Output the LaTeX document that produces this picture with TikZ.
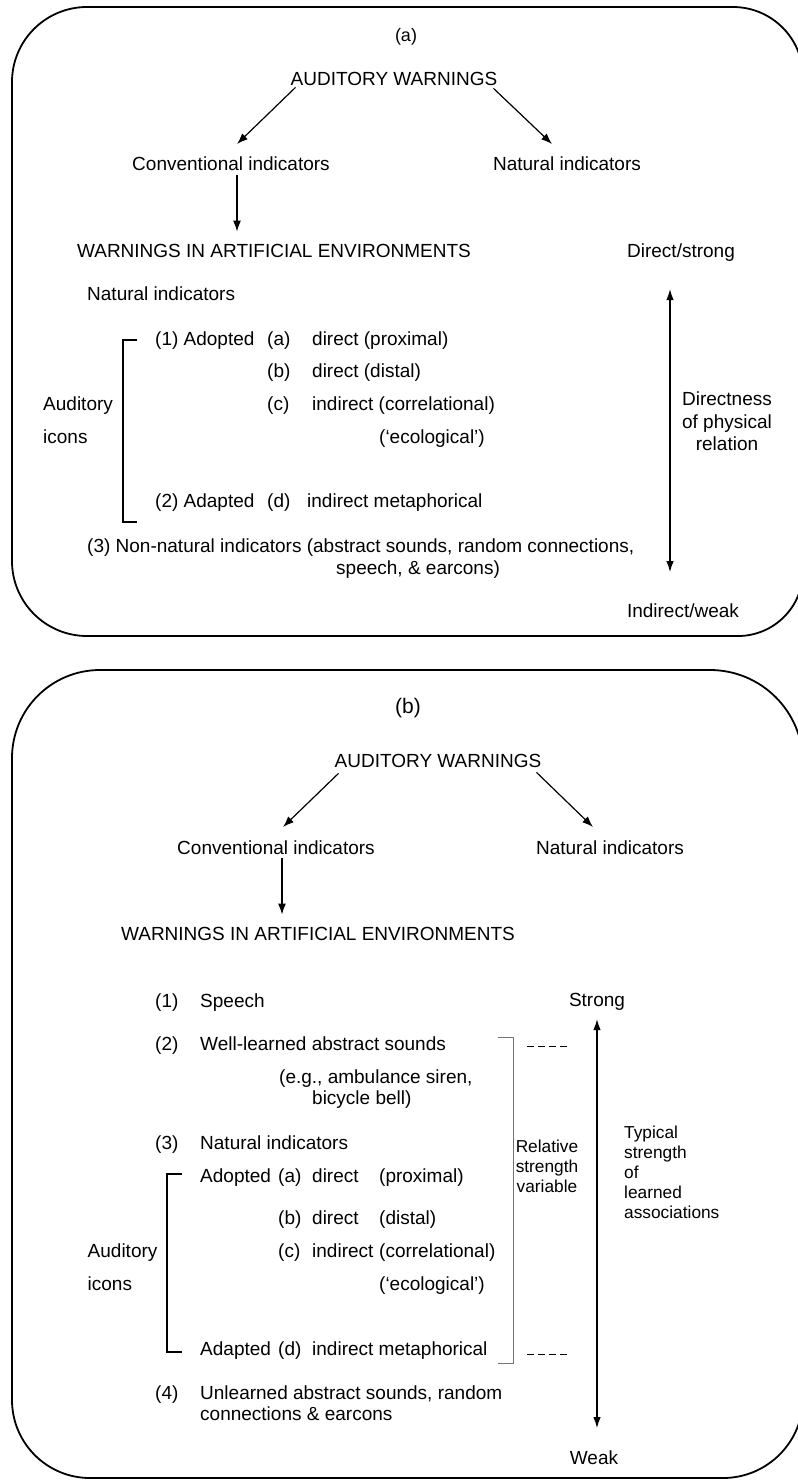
\documentclass[tikz,border=0pt]{standalone}
\usepackage{fontspec}
\setmainfont{Liberation Sans}
\usetikzlibrary{arrows.meta,calc}
\begin{document}
\begin{tikzpicture}[x=1pt,y=-1pt,
  t/.style={inner sep=0pt, font=\fontsize{19}{22}\selectfont},
  ts/.style={inner sep=0pt, font=\fontsize{17.3}{20}\selectfont},
  frame/.style={line width=1.8pt},
  arr/.style={line width=1.2pt, -{Latex[length=11pt,width=8pt]}},
  darr/.style={line width=1.2pt, {Latex[length=11pt,width=7.5pt]}-{Latex[length=11pt,width=7.5pt]}},
  brk/.style={line width=1.3pt},
  gbrk/.style={line width=1pt, draw=black!55},
  dsh/.style={line width=1pt, dash pattern=on 7pt off 4pt}]
\useasboundingbox (0,0) rectangle (798,1481);
\fill[white] (0,0) rectangle (798,1481);
\clip (0,0) rectangle (798,1481);
% frames (explicit pt units: canvas y points up)
\draw[frame] (87pt,-7pt) -- (733pt,-7pt) arc[start angle=90,end angle=0,radius=70pt]
  -- (803pt,-571pt) arc[start angle=0,end angle=-90,radius=65pt]
  -- (87pt,-636pt) arc[start angle=270,end angle=180,radius=75pt]
  -- (12pt,-82pt) arc[start angle=180,end angle=90,radius=75pt] -- cycle;
\draw[frame] (100pt,-670pt) -- (710pt,-670pt) arc[start angle=90,end angle=0,radius=93pt]
  -- (803pt,-1398pt) arc[start angle=0,end angle=-90,radius=80pt]
  -- (90pt,-1478pt) arc[start angle=270,end angle=180,radius=78pt]
  -- (12pt,-758pt) arc[start angle=180,end angle=90,radius=88pt] -- cycle;

% ---------------- panel (a)
\node[t, font=\fontsize{18}{20}\selectfont, anchor=base] (la) at (406,41) {(a)};
\node[t,anchor=base] (aw) at (394,85) {AUDITORY WARNINGS};
\node[t,anchor=base] (ci) at (231,170) {Conventional indicators};
\node[t,anchor=base] (ni) at (567,170) {Natural indicators};
\node[t,anchor=base] (wa) at (274,257) {WARNINGS IN ARTIFICIAL ENVIRONMENTS};
\node[t,anchor=base] (ds) at (681,257) {Direct/strong};
\node[t,anchor=base west] (nl) at (87,300) {Natural indicators};
\node[t,anchor=base west] (r1) at (155,345) {(1) Adopted};
\node[t,anchor=base west] (ra) at (267,345) {(a)};
\node[t,anchor=base west] (ta) at (312,345) {direct (proximal)};
\node[t,anchor=base west] (rb) at (267,377) {(b)};
\node[t,anchor=base west] (tb) at (312,377) {direct (distal)};
\node[t,anchor=base west] (rc) at (267,410) {(c)};
\node[t,anchor=base west] (tc) at (312,410) {indirect (correlational)};
\node[t,anchor=base west] (te) at (379,443) {(‘ecological’)};
\node[t,anchor=base west] (r2) at (155,507) {(2) Adapted};
\node[t,anchor=base west] (rd) at (267,507) {(d)};
\node[t,anchor=base west] (td) at (307,507) {indirect metaphorical};
\node[t,anchor=base west] (ai) at (43,410) {Auditory};
\node[t,anchor=base west] (ic) at (43,443) {icons};
\node[t,anchor=base west] (n3) at (87,552) {(3) Non-natural indicators (abstract sounds, random connections,};
\node[t,anchor=base west] (n3b) at (336,574) {speech, \& earcons)};
\node[t,anchor=base] (iw) at (683,617) {Indirect/weak};
\node[t,anchor=base] (d1) at (727,405) {Directness};
\node[t,anchor=base] (d2) at (727,428) {of physical};
\node[t,anchor=base] (d3) at (727,450) {relation};

\draw[brk] (137,340) -- (123,340) -- (123,522) -- (137,522);

\draw[arr] ($(aw.south west)+(5,2)$) -- ($(ci.north)+(6,-12)$);
\draw[arr] ($(aw.south east)+(-4,3)$) -- ($(ni.north)+(-15,-12)$);
\draw[arr] ($(ci.south)+(6,5)$) -- ($(wa.north)+(-37,-12)$);
\draw[darr] ($(ds.south)+(-11,28)$) -- ($(iw.north)+(-13,-31)$);

% ---------------- panel (b)
\node[t, font=\fontsize{21}{24}\selectfont, anchor=base] (lb) at (408,713) {(b)};
\node[t,anchor=base] (bw) at (438,767) {AUDITORY WARNINGS};
\node[t,anchor=base] (bci) at (276,854) {Conventional indicators};
\node[t,anchor=base] (bni) at (610,854) {Natural indicators};
\node[t,anchor=base] (bwa) at (318,940) {WARNINGS IN ARTIFICIAL ENVIRONMENTS};

\draw[arr] ($(bw.south west)+(4,6)$) -- ($(bci.north)+(7,-13)$);
\draw[arr] ($(bw.south east)+(-5,5)$) -- ($(bni.north)+(-17,-13)$);
\draw[arr] ($(bci.south)+(6,4)$) -- ($(bwa.north)+(-36,-12)$);

\node[t,anchor=base west] (s1) at (155,1007) {(1)};
\node[t,anchor=base west] (s1t) at (200,1007) {Speech};
\node[t,anchor=base west] (s2) at (155,1050) {(2)};
\node[t,anchor=base west] (s2t) at (200,1050) {Well-learned abstract sounds};
\node[t,anchor=base west] (s2e) at (279,1083) {(e.g., ambulance siren,};
\node[t,anchor=base west] (s2f) at (312,1104) {bicycle bell)};
\node[t,anchor=base west] (s3) at (155,1149) {(3)};
\node[t,anchor=base west] (s3t) at (200,1149) {Natural indicators};
\node[t,anchor=base west] (sad) at (200,1182) {Adopted};
\node[t,anchor=base west] (sa) at (278,1182) {(a)};
\node[t,anchor=base west] (sa1) at (312,1182) {direct};
\node[t,anchor=base west] (sa2) at (379,1182) {(proximal)};
\node[t,anchor=base west] (sb) at (278,1224) {(b)};
\node[t,anchor=base west] (sb1) at (312,1224) {direct};
\node[t,anchor=base west] (sb2) at (379,1224) {(distal)};
\node[t,anchor=base west] (sc) at (278,1257) {(c)};
\node[t,anchor=base west] (sc1) at (312,1257) {indirect};
\node[t,anchor=base west] (sc2) at (379,1257) {(correlational)};
\node[t,anchor=base west] (se) at (379,1290) {(‘ecological’)};
\node[t,anchor=base west] (sdd) at (200,1355) {Adapted};
\node[t,anchor=base west] (sd) at (278,1355) {(d)};
\node[t,anchor=base west] (sd1) at (312,1355) {indirect metaphorical};
\node[t,anchor=base west] (s4) at (155,1399) {(4)};
\node[t,anchor=base west] (s4t) at (200,1399) {Unlearned abstract sounds, random};
\node[t,anchor=base west] (s4u) at (200,1420) {connections \& earcons};
\node[t,anchor=base west] (bai) at (87.5,1257) {Auditory};
\node[t,anchor=base west] (bic) at (87.5,1290) {icons};

\draw[brk] (182,1174) -- (167,1174) -- (167,1352) -- (182,1352);
\draw[gbrk] (498,1037) -- (513,1037) -- (513,1363) -- (498,1363);
\draw[dsh] (527,1046) -- (570,1046);
\draw[dsh] (527,1354) -- (570,1354);

\node[ts,anchor=base] (rs1) at (547,1152) {Relative};
\node[ts,anchor=base] (rs2) at (547,1172) {strength};
\node[ts,anchor=base] (rs3) at (547,1192) {variable};

\node[t,anchor=base] (st) at (597,1006) {Strong};
\node[t,anchor=base] (wk) at (594,1464) {Weak};
\draw[darr] ($(st.south)+(0,9)$) -- ($(wk.north)+(3,-22)$);

\node[ts,anchor=base west] (ty1) at (624,1138) {Typical};
\node[ts,anchor=base west] (ty2) at (624,1158) {strength};
\node[ts,anchor=base west] (ty3) at (624,1178) {of};
\node[ts,anchor=base west] (ty4) at (624,1198) {learned};
\node[ts,anchor=base west] (ty5) at (624,1218) {associations};
\end{tikzpicture}
\end{document}
